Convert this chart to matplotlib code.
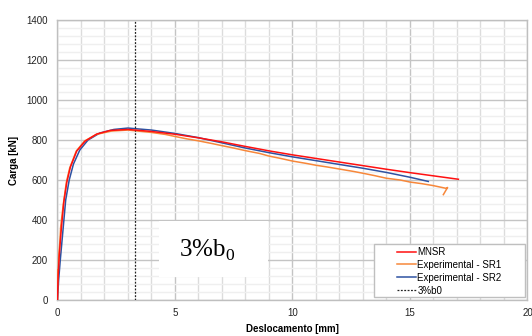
import matplotlib
matplotlib.use("Agg")
import matplotlib.pyplot as plt
from matplotlib.ticker import MultipleLocator
from matplotlib.patches import Rectangle

plt.rcParams['font.family'] = ['Liberation Sans', 'DejaVu Sans']
plt.rcParams['mathtext.fontset'] = 'custom'
plt.rcParams['mathtext.rm'] = 'Liberation Serif'

# curvas carga x deslocamento
mnsr_x = [0, 0.03, 0.08, 0.16, 0.27, 0.4, 0.55, 0.82, 1.18, 1.67, 2.24, 3.0,
          4, 5, 6, 7, 8, 9, 10, 11, 12, 13, 14, 15, 16, 17.06]
mnsr_y = [0, 120, 230, 350, 490, 590, 665, 745, 795, 830, 848, 853,
          843, 829, 811, 791, 768, 746, 726, 708, 690, 672, 654, 637, 621, 604]

sr1_x = [0, 0.01, 0.03, 0.05, 0.1, 0.14, 0.25, 0.38, 0.52, 0.8, 1.15, 1.65, 2.3, 3.0,
         4, 4.6, 5, 5.5, 6, 6.6, 7, 7.5, 8, 8.6, 9, 9.5, 10, 10.6, 11, 11.5, 12,
         12.6, 13, 13.5, 14, 14.6, 15, 15.5, 16, 16.56, 16.6, 16.42]
sr1_y = [0, 150, 130, 210, 290, 370, 480, 590, 660, 745, 795, 828, 845, 850,
         838, 828, 818, 806, 796, 782, 772, 760, 747, 733, 720, 708, 695, 683, 674, 665, 655,
         643, 634, 622, 609, 600, 590, 582, 572, 558, 563, 527]

sr2_x = [0, 0.05, 0.12, 0.22, 0.35, 0.5, 0.68, 0.95, 1.3, 1.8, 2.4, 3.0,
         4, 5, 6, 7, 8, 9, 10, 11, 12, 13, 14, 15, 15.78]
sr2_y = [0, 100, 200, 330, 500, 600, 680, 750, 800, 835, 853, 860,
         850, 833, 812, 786, 760, 737, 716, 697, 678, 659, 638, 614, 593]

x_3b0 = 3.3

fig = plt.figure(figsize=(5.32, 3.36), dpi=100)
ax = fig.add_axes([0.108, 0.107, 0.8835, 0.8333])

ax.set_axisbelow(True)
ax.plot(sr2_x, sr2_y, color='#2E52A2', lw=1.1, label='Experimental - SR2', zorder=3)
ax.plot(sr1_x, sr1_y, color='#F7873A', lw=1.1, label='Experimental - SR1', zorder=3)
ax.plot(mnsr_x, mnsr_y, color='#FF1010', lw=1.1, label='MNSR', zorder=4)
ax.axvline(x_3b0, color='#222222', lw=0.9, ls=(0, (1.5, 1.2)), label='3%b0', zorder=3)

ax.set_xlim(0, 20)
ax.set_ylim(0, 1400)
ax.xaxis.set_major_locator(MultipleLocator(5))
ax.xaxis.set_minor_locator(MultipleLocator(1))
ax.yaxis.set_major_locator(MultipleLocator(200))
ax.yaxis.set_minor_locator(MultipleLocator(40))
ax.xaxis.grid(True, which='major', color='#c4c4c4', lw=1)
ax.xaxis.grid(True, which='minor', color='#dcdcdc', lw=1)
ax.yaxis.grid(True, which='major', color='#c4c4c4', lw=1)
ax.yaxis.grid(True, which='minor', color='#efefef', lw=1)
ax.tick_params(which='both', length=0, labelsize=7, colors='#222222')
ax.tick_params(axis='y', pad=7)
ax.tick_params(axis='x', pad=6)
for s in ax.spines.values():
    s.set_color('#bfbfbf')
    s.set_linewidth(1)

ax.set_xlabel('Deslocamento [mm]', fontsize=7, fontweight='bold', labelpad=4)
ax.set_ylabel('Carga [kN]', fontsize=7, fontweight='bold', labelpad=5)

# caixa com o texto 3%b0
ax.add_patch(Rectangle((4.32, 115), 4.64, 280, facecolor='white', edgecolor='none', zorder=1))
ax.text(5.17, 216, r'3%b$_{0}$', fontsize=18, family='Liberation Serif', zorder=2)

# legenda
handles, labels = ax.get_legend_handles_labels()
order = [2, 1, 0, 3]
ax.add_patch(Rectangle((0.673, 0.011), 0.322, 0.189, transform=ax.transAxes,
                       facecolor='white', edgecolor='#bfbfbf', lw=1, zorder=5))
leg = ax.legend([handles[i] for i in order], [labels[i] for i in order],
                loc='lower left', bbox_to_anchor=(0.716, 0.005), frameon=False,
                fontsize=7, handlelength=2.0, handletextpad=0.1, labelspacing=0.3,
                borderaxespad=0, borderpad=0.3)
leg.set_zorder(6)

fig.savefig('out.png', dpi=100)
